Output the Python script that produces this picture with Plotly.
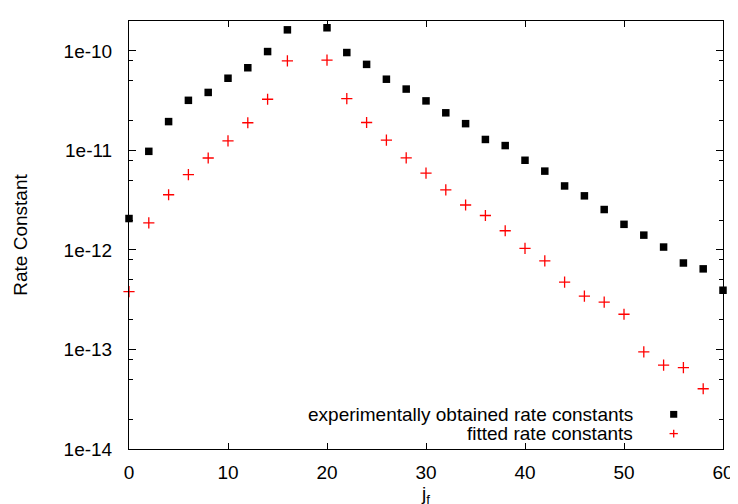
import plotly.graph_objects as go

# rotational quantum number j_f
j_exp = [0, 2, 4, 6, 8, 10, 12, 14, 16, 20, 22, 24, 26, 28, 30, 32, 34, 36, 38,
         40, 42, 44, 46, 48, 50, 52, 54, 56, 58, 60]
k_exp = [2.07e-12, 9.8e-12, 1.95e-11, 3.19e-11, 3.83e-11, 5.32e-11, 6.78e-11,
         9.86e-11, 1.63e-10, 1.71e-10, 9.64e-11, 7.33e-11, 5.2e-11, 4.14e-11,
         3.15e-11, 2.39e-11, 1.86e-11, 1.29e-11, 1.12e-11, 7.97e-12, 6.2e-12,
         4.4e-12, 3.5e-12, 2.55e-12, 1.81e-12, 1.41e-12, 1.07e-12, 7.4e-13,
         6.46e-13, 3.94e-13]

j_fit = [0, 2, 4, 6, 8, 10, 12, 14, 16, 20, 22, 24, 26, 28, 30, 32, 34, 36, 38,
         40, 42, 44, 46, 48, 50, 52, 54, 56, 58]
k_fit = [3.82e-13, 1.87e-12, 3.59e-12, 5.71e-12, 8.4e-12, 1.25e-11, 1.9e-11,
         3.27e-11, 7.96e-11, 8.09e-11, 3.32e-11, 1.91e-11, 1.27e-11, 8.42e-12,
         5.93e-12, 4.02e-12, 2.83e-12, 2.22e-12, 1.56e-12, 1.04e-12, 7.76e-13,
         4.75e-13, 3.43e-13, 2.99e-13, 2.26e-13, 9.48e-14, 6.98e-14, 6.58e-14,
         4.03e-14]

y_tickvals = [1e-14, 1e-13, 1e-12, 1e-11, 1e-10]
y_ticktext = ['1e-14', '1e-13', '1e-12', '1e-11', '1e-10']
labels = ['experimentally obtained rate constants', 'fitted rate constants']

FONT = 'Liberation Sans, Arial, sans-serif'
FS = 19
# gnuplot-style minor tics at 2, 5 and 8 within each decade
minor_vals = [m * d for d in y_tickvals for m in (2, 5, 8)]

fig = go.Figure()

fig.add_trace(go.Scatter(
    x=j_exp, y=k_exp, mode='markers', name=labels[0],
    marker=dict(symbol='square', size=7.5, color='black', line=dict(width=0)),
    cliponaxis=False,
))
fig.add_trace(go.Scatter(
    x=j_fit, y=k_fit, mode='markers', name=labels[1],
    marker=dict(symbol='cross-thin', size=8, color='red',
                line=dict(width=1.3, color='red')),
    cliponaxis=False,
))

# legend in gnuplot style: text on the left, symbol on the right
shapes = [
    dict(type='rect', xref='paper', yref='paper',
         x0=0.911, x1=0.923, y0=0.073, y1=0.089,
         fillcolor='black', line=dict(width=0)),
    dict(type='line', xref='paper', yref='paper',
         x0=0.910, x1=0.924, y0=0.036, y1=0.036,
         line=dict(color='red', width=1.3)),
    dict(type='line', xref='paper', yref='paper',
         x0=0.917, x1=0.917, y0=0.027, y1=0.045,
         line=dict(color='red', width=1.3)),
]
annotations = [
    dict(x=0.852, y=yy, xref='paper', yref='paper', text=t,
         xanchor='right', yanchor='middle', showarrow=False,
         font=dict(size=FS, color='black', family=FONT))
    for t, yy in zip(labels, [0.081, 0.036])
]

fig.update_layout(
    width=738, height=504,
    margin=dict(l=121, r=14, t=13, b=57),
    paper_bgcolor='white',
    plot_bgcolor='white',
    font=dict(family=FONT, size=FS, color='black'),
    showlegend=False,
    shapes=shapes,
    annotations=annotations,
)

fig.update_xaxes(
    range=[0, 60], tickvals=[0, 10, 20, 30, 40, 50, 60],
    showline=True, linecolor='black', linewidth=1, mirror='ticks',
    ticks='inside', ticklen=6, tickcolor='black',
    showgrid=False, zeroline=False,
    ticklabelstandoff=6,
    title=dict(text='j<sub>f</sub>', standoff=4, font=dict(size=FS)),
)
fig.update_yaxes(
    type='log', range=[-14, -9.699],
    tickmode='array', tickvals=y_tickvals, ticktext=y_ticktext,
    showline=True, linecolor='black', linewidth=1, mirror='ticks',
    ticks='inside', ticklen=7, tickcolor='black',
    minor=dict(tickmode='array', tickvals=minor_vals, ticks='inside',
               ticklen=4, tickcolor='black', showgrid=False),
    showgrid=False, zeroline=False,
    ticklabelstandoff=12,
    title=dict(text='Rate Constant', standoff=30, font=dict(size=FS)),
)

fig.write_html('out.html')
